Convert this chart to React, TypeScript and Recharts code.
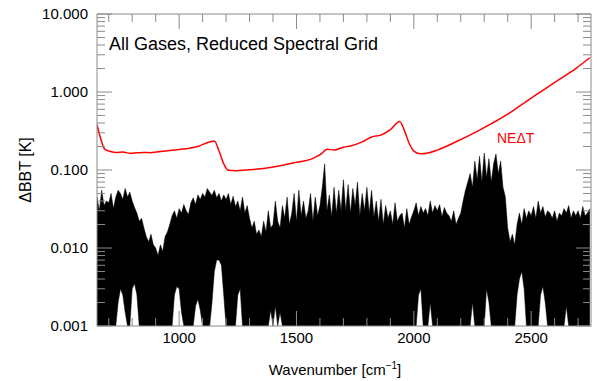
import React from 'react';
import { ComposedChart, Area, Line, XAxis, YAxis } from 'recharts';

// spectral BT difference (mK), one value every 10 cm-1 from 650 to 2750
const specStart = 650;
const specStep = 10;
const specHi = [
  45, 30, 55, 35, 40, 38, 50, 32, 45, 55,
  50, 42, 58, 45, 52, 40, 33, 28, 22, 24,
  18, 14, 12, 15, 11, 10, 8, 11, 9, 14,
  16, 20, 26, 30, 24, 32, 28, 36, 30, 27,
  38, 44, 36, 48, 42, 50, 45, 58, 52, 47,
  55, 44, 50, 40, 48, 42, 50, 36, 46, 34,
  40, 30, 45, 28, 35, 24, 18, 22, 15, 17,
  14, 22, 16, 30, 18, 20, 40, 22, 18, 35,
  24, 45, 20, 28, 50, 22, 55, 26, 40, 24,
  30, 50, 22, 45, 26, 35, 60, 120, 30, 48,
  25, 60, 28, 55, 30, 75, 30, 65, 28, 58,
  35, 70, 26, 50, 30, 60, 28, 55, 25, 40,
  22, 42, 20, 35, 24, 30, 20, 38, 22, 26,
  28, 18, 32, 20, 25, 30, 38, 26, 34, 28,
  32, 26, 40, 28, 35, 30, 36, 25, 33, 28,
  26, 22, 30, 20, 24, 28, 40, 55, 70, 90,
  60, 130, 75, 150, 70, 165, 80, 140, 70, 120,
  160, 90, 130, 60, 45, 18, 12, 15, 11, 20,
  28, 20, 32, 24, 30, 26, 34, 24, 40, 28,
  34, 25, 30, 28, 24, 30, 22, 28, 26, 32,
  28, 35, 24, 30, 26, 30, 24, 34, 26, 28,
  32,
];
const specLo = [
  1, 1, 1, 1, 1, 1, 1, 1, 1, 2,
  3, 2.5, 1.5, 1, 1, 3, 3.5, 2.5, 1, 1,
  1, 1, 1, 1, 1, 1, 1, 1, 1, 1,
  1, 1, 1, 2.5, 3.2, 3, 1.5, 1, 1, 1,
  1, 1, 1.8, 2.2, 1.6, 1, 1, 1, 1, 2,
  5, 7, 7, 6, 2.5, 1, 1, 1, 1, 1,
  2.5, 3, 1, 1, 1, 1, 1, 1, 1, 1,
  1, 1, 1, 1, 1.6, 1, 1.8, 1, 1.5, 1,
  1, 1, 1, 1, 1, 1, 1, 1, 1, 1,
  1, 1, 1, 1, 1, 1, 1, 1, 1, 1,
  1, 1, 1, 1, 1, 1, 1, 1, 1, 1,
  1, 1, 1, 1, 1, 1, 1, 1, 1, 1,
  1, 1, 1, 1, 1, 1, 1, 1, 1, 1,
  1, 1, 1, 1, 1, 1, 1, 2.5, 3, 1,
  1, 1, 2, 1, 1, 1, 1, 1, 1, 1,
  1, 1, 1, 1, 1, 1, 1, 1, 1, 1,
  2, 1, 1, 1, 1, 1, 3, 2, 1, 1,
  1, 1, 1, 1, 1, 1, 1, 1, 1, 2.5,
  4, 5, 3, 1, 1, 1, 1, 1, 1, 2.5,
  3.2, 2, 1, 1, 1, 1, 1, 1, 1, 1,
  1.8, 1, 1, 1, 1, 1, 1, 1, 1, 1,
  1,
];

// NEdT curve (K)
const neatWn = [
  650, 660, 670, 680, 690, 700, 730, 760, 790, 820,
  850, 880, 930, 1000, 1050, 1080, 1110, 1150, 1170, 1190,
  1210, 1240, 1300, 1350, 1420, 1490, 1570, 1610, 1630, 1660,
  1700, 1730, 1780, 1820, 1860, 1900, 1940, 1960, 1980, 2000,
  2030, 2060, 2100, 2180, 2280, 2400, 2480, 2550, 2620, 2690,
  2750,
];
const neatK = [
  0.38, 0.29, 0.23, 0.19, 0.18, 0.175, 0.168, 0.17, 0.164, 0.166,
  0.168, 0.167, 0.174, 0.183, 0.192, 0.2, 0.218, 0.236, 0.175, 0.12,
  0.099, 0.098, 0.101, 0.104, 0.112, 0.124, 0.141, 0.165, 0.185, 0.18,
  0.196, 0.203, 0.229, 0.265, 0.28, 0.33, 0.42, 0.32, 0.22, 0.175,
  0.161, 0.165, 0.18, 0.23, 0.325, 0.52, 0.76, 1.05, 1.45, 2.0,
  2.75,
];

const xDomain = [650, 2755];
const xMajor = [1000, 1500, 2000, 2500];
const xTicks = [700, 800, 900, 1000, 1100, 1200, 1300, 1400, 1500, 1600, 1700,
  1800, 1900, 2000, 2100, 2200, 2300, 2400, 2500, 2600, 2700];
const yMajor = [0.001, 0.01, 0.1, 1, 10];
const yTicks: number[] = [];
yMajor.forEach((d, i) => {
  if (i === yMajor.length - 1) { yTicks.push(d); return; }
  for (let m = 1; m <= 9; m++) yTicks.push(+(d * m).toPrecision(3));
});

const chartData = specHi.map((hi, i) => {
  const wn = specStart + i * specStep;
  const k = neatWn.indexOf(wn);
  return { wn, spec: [specLo[i] / 1000, hi / 1000], neat: k >= 0 ? neatK[k] : null };
});

const AXIS = '#8a8a8a';
const FONT = '"Liberation Sans", Arial, Helvetica, sans-serif';
const MAJ = 15;
const MIN = 8;

const isMajorY = (v: number) => yMajor.some((m) => Math.abs(m - v) < m * 1e-6);

export default function App() {
  return (
    <div style={{ position: 'absolute', left: 0, top: 0, width: 599, height: 381, background: '#fff', fontFamily: FONT }}>
      <ComposedChart width={599} height={381} data={chartData} margin={{ top: 0, right: 0, bottom: 0, left: 0 }}>
        <XAxis
          xAxisId="bottom"
          dataKey="wn"
          type="number"
          domain={xDomain}
          allowDataOverflow
          ticks={xTicks}
          interval={0}
          height={55}
          tickSize={0}
          tickMargin={0}
          tickLine={false}
          axisLine={{ stroke: AXIS }}
          tick={(p: any) => {
            const major = xMajor.includes(p.payload.value);
            return (
              <g>
                <line x1={p.x} x2={p.x} y1={p.y} y2={p.y - (major ? MAJ : MIN)} stroke={AXIS} />
                {major && (
                  <text x={p.x} y={p.y + 17} textAnchor="middle" fontSize={15} fill="#000" fontFamily={FONT}>
                    {p.payload.value}
                  </text>
                )}
              </g>
            );
          }}
        />
        <XAxis
          xAxisId="top"
          orientation="top"
          dataKey="wn"
          type="number"
          domain={xDomain}
          allowDataOverflow
          ticks={xTicks}
          interval={0}
          height={14}
          tickSize={0}
          tickMargin={0}
          tickLine={false}
          axisLine={{ stroke: AXIS }}
          tick={(p: any) => {
            const major = xMajor.includes(p.payload.value);
            return <line x1={p.x} x2={p.x} y1={p.y} y2={p.y + (major ? MAJ : MIN)} stroke={AXIS} />;
          }}
        />
        <YAxis
          yAxisId="left"
          type="number"
          scale="log"
          domain={[0.001, 10]}
          allowDataOverflow
          ticks={yTicks}
          interval={0}
          width={97}
          tickSize={0}
          tickMargin={0}
          tickLine={false}
          axisLine={{ stroke: AXIS }}
          tick={(p: any) => {
            const major = isMajorY(p.payload.value);
            return (
              <g>
                <line x1={p.x} x2={p.x + (major ? MAJ : MIN)} y1={p.y} y2={p.y} stroke={AXIS} />
                {major && (
                  <text x={p.x - 9} y={p.y + 5.4} textAnchor="end" fontSize={15} fill="#000" fontFamily={FONT}>
                    {Number(p.payload.value).toFixed(3)}
                  </text>
                )}
              </g>
            );
          }}
        />
        <YAxis
          yAxisId="right"
          orientation="right"
          type="number"
          scale="log"
          domain={[0.001, 10]}
          allowDataOverflow
          ticks={yTicks}
          interval={0}
          width={8}
          tickSize={0}
          tickMargin={0}
          tickLine={false}
          axisLine={{ stroke: AXIS }}
          tick={(p: any) => {
            const major = isMajorY(p.payload.value);
            return <line x1={p.x} x2={p.x - (major ? MAJ : MIN)} y1={p.y} y2={p.y} stroke={AXIS} />;
          }}
        />
        <Area
          xAxisId="bottom"
          yAxisId="left"
          dataKey="spec"
          type="linear"
          stroke="#000"
          strokeWidth={0.5}
          fill="#000"
          fillOpacity={1}
          dot={false}
          activeDot={false}
          isAnimationActive={false}
        />
        <Line
          xAxisId="bottom"
          yAxisId="left"
          dataKey="neat"
          type="monotone"
          stroke="#ff0000"
          strokeWidth={1.5}
          dot={false}
          activeDot={false}
          connectNulls
          isAnimationActive={false}
        />
      </ComposedChart>
      <svg width={599} height={381} style={{ position: 'absolute', left: 0, top: 0, pointerEvents: 'none' }}>
        <text x={109} y={49.5} fontSize={18} fill="#000" fontFamily={FONT}>All Gases, Reduced Spectral Grid</text>
        <text x={497} y={143} fontSize={14} fill="#ff0000" fontFamily={FONT}>NEΔT</text>
        <text x={335} y={375} textAnchor="middle" fontSize={15} fill="#000" fontFamily={FONT}>
          Wavenumber [cm<tspan fontSize={10} dy={-6}>−1</tspan><tspan dy={6}>]</tspan>
        </text>
        <text x={31} y={170} transform="rotate(-90 31 170)" textAnchor="middle" fontSize={16} fill="#000" fontFamily={FONT}>
          ΔBBT [K]
        </text>
      </svg>
    </div>
  );
}
